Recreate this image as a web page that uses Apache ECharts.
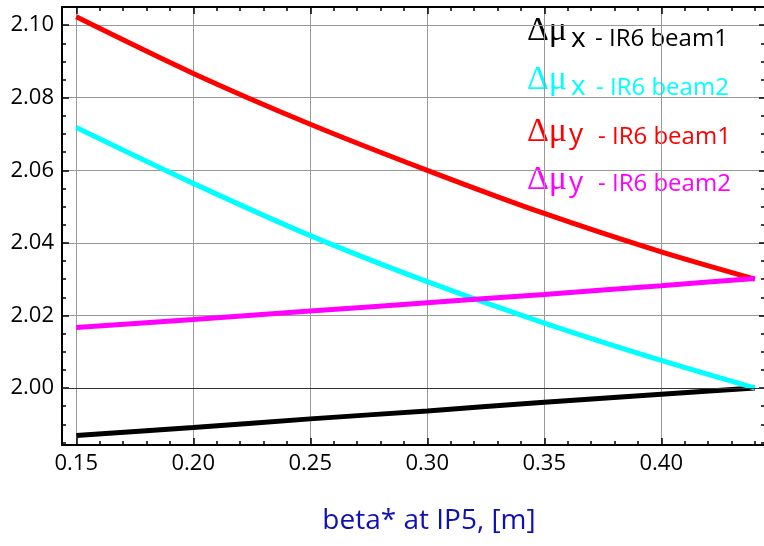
<!DOCTYPE html>
<html><head><meta charset="utf-8">
<script src="https://cdn.jsdelivr.net/npm/echarts@6/dist/echarts.min.js"></script>
<style>html,body{margin:0;padding:0;background:#fff}#c{width:764px;height:546px}</style>
</head><body><div id="c"></div>
<script>
// ---- data ----
const betaStar = [0.15, 0.20, 0.25, 0.30, 0.35, 0.40, 0.44];
const muXBeam1 = [1.9869, 1.9891, 1.9915, 1.9937, 1.9961, 1.9983, 2.0000];
const muXBeam2 = [2.0718, 2.0564, 2.0420, 2.0293, 2.0179, 2.0076, 2.0000];
const muYBeam1 = [2.1023, 2.0867, 2.0727, 2.0600, 2.0481, 2.0375, 2.0300];
const muYBeam2 = [2.0167, 2.0189, 2.0212, 2.0235, 2.0258, 2.0282, 2.0302];

const xMajorTicks = [0.15, 0.20, 0.25, 0.30, 0.35, 0.40];
const xMinorTicks = [0.15, 0.16, 0.17, 0.18, 0.19, 0.20, 0.21, 0.22, 0.23, 0.24, 0.25, 0.26, 0.27, 0.28, 0.29, 0.30,
                     0.31, 0.32, 0.33, 0.34, 0.35, 0.36, 0.37, 0.38, 0.39, 0.40, 0.41, 0.42, 0.43, 0.44];
const yMajorTicks = [2.00, 2.02, 2.04, 2.06, 2.08, 2.10];
const yMinorTicks = [1.985, 1.990, 1.995, 2.000, 2.005, 2.010, 2.015, 2.020, 2.025, 2.030, 2.035, 2.040, 2.045,
                     2.050, 2.055, 2.060, 2.065, 2.070, 2.075, 2.080, 2.085, 2.090, 2.095, 2.100];

const seriesNames = ['Δμx - IR6 beam1', 'Δμx - IR6 beam2', 'Δμy - IR6 beam1', 'Δμy - IR6 beam2'];
const seriesColors = ['#000000', '#00ffff', '#ff0000', '#ff00ff'];
const legendSubs = ['x', 'x', 'y', 'y'];
const legendTexts = ['- IR6 beam1', '- IR6 beam2', '- IR6 beam1', '- IR6 beam2'];
const xAxisTitle = 'beta* at IP5, [m]';

const X_MIN = 0.1439, X_MAX = 0.4439;
const Y_MIN = 1.9843, Y_MAX = 2.1050;

// ---- layout of the hand-drawn legend (pixel positions) ----
const legendDeltaBase = [43, 92, 144, 192];
const legendSubBase = [50, 98, 146, 194];
const legendTextBase = [48, 97, 146, 193];
const legendSubLeft = [571, 571, 569, 569];
const legendTextLeft = [595, 596, 598, 598];

// ---- build ----
const FONT = 'Open Sans';
function xAx(pos, ticks, len, main, lineShow) {
  return {
    type: 'value', position: pos, min: X_MIN, max: X_MAX,
    axisLine: { show: lineShow, onZero: false, lineStyle: { color: '#000', width: 2 } },
    axisTick: { show: true, inside: true, length: len, customValues: ticks, lineStyle: { color: '#000', width: 1.5 } },
    axisLabel: { show: main && pos === 'bottom', customValues: ticks, formatter: v => v.toFixed(2),
                 fontSize: 22, color: '#000', fontFamily: FONT, margin: 8 },
    splitLine: { show: main && pos === 'bottom', lineStyle: { color: '#999', width: 1 } },
    minorSplitLine: { show: false }, splitArea: { show: false }
  };
}
function yAx(pos, ticks, len, main, lineShow) {
  return {
    type: 'value', position: pos, min: Y_MIN, max: Y_MAX,
    axisLine: { show: lineShow, onZero: false, lineStyle: { color: '#000', width: 2 } },
    axisTick: { show: true, inside: true, length: len, customValues: ticks, lineStyle: { color: '#000', width: 1.5 } },
    axisLabel: { show: main && pos === 'left', customValues: ticks, formatter: v => v.toFixed(2),
                 fontSize: 22, color: '#000', fontFamily: FONT, margin: 8 },
    splitLine: { show: main && pos === 'left', lineStyle: { color: '#999', width: 1 } },
    minorSplitLine: { show: false }, splitArea: { show: false }
  };
}

const allValues = [muXBeam1, muXBeam2, muYBeam1, muYBeam2];
const series = allValues.map((vals, i) => ({
  name: seriesNames[i], type: 'line', xAxisIndex: 0, yAxisIndex: 0,
  data: betaStar.map((x, k) => [x, vals[k]]),
  showSymbol: false, smooth: 0.3, silent: true,
  lineStyle: { color: seriesColors[i], width: 5 },
  z: 3 + i
}));
series[0].markLine = {
  silent: true, symbol: 'none', label: { show: false }, animation: false,
  lineStyle: { color: '#333', width: 1.2, type: 'solid' },
  data: [{ yAxis: 2.0 }]
};

const graphics = [];
legendTexts.forEach((t, i) => {
  const c = seriesColors[i];
  graphics.push({ type: 'text', x: 527, y: legendDeltaBase[i] - 0.3375 * 34,
    style: { text: 'Δμ', font: '34px "Liberation Serif"', fill: c, verticalAlign: 'middle' } });
  graphics.push({ type: 'text', x: legendSubLeft[i], y: legendSubBase[i] - 0.388 * 28,
    style: { text: legendSubs[i], font: '28px "Open Sans"', fill: c, verticalAlign: 'middle' } });
  graphics.push({ type: 'text', x: legendTextLeft[i], y: legendTextBase[i] - 0.388 * 24,
    style: { text: t, font: '24px "Open Sans"', fill: c, verticalAlign: 'middle' } });
});
graphics.push({ type: 'text', x: 429, y: 532 - 0.388 * 28,
  style: { text: xAxisTitle, font: '28px "Open Sans"', fill: '#1010b4', align: 'center', verticalAlign: 'middle' } });

const chart = echarts.init(document.getElementById('c'), null, { renderer: 'canvas' });
chart.setOption({
  animation: false,
  backgroundColor: '#fff',
  grid: { left: 62, right: 0, top: 7, bottom: 101, containLabel: false, outerBoundsMode: 'none' },
  xAxis: [xAx('bottom', xMajorTicks, 7, true, true), xAx('bottom', xMinorTicks, 4, false, false),
          xAx('top', xMajorTicks, 7, true, true), xAx('top', xMinorTicks, 4, false, false)],
  yAxis: [yAx('left', yMajorTicks, 7, true, true), yAx('left', yMinorTicks, 4, false, false),
          yAx('right', yMajorTicks, 5, true, false), yAx('right', yMinorTicks, 3, false, false)],
  series: series,
  graphic: graphics
});
</script></body></html>
